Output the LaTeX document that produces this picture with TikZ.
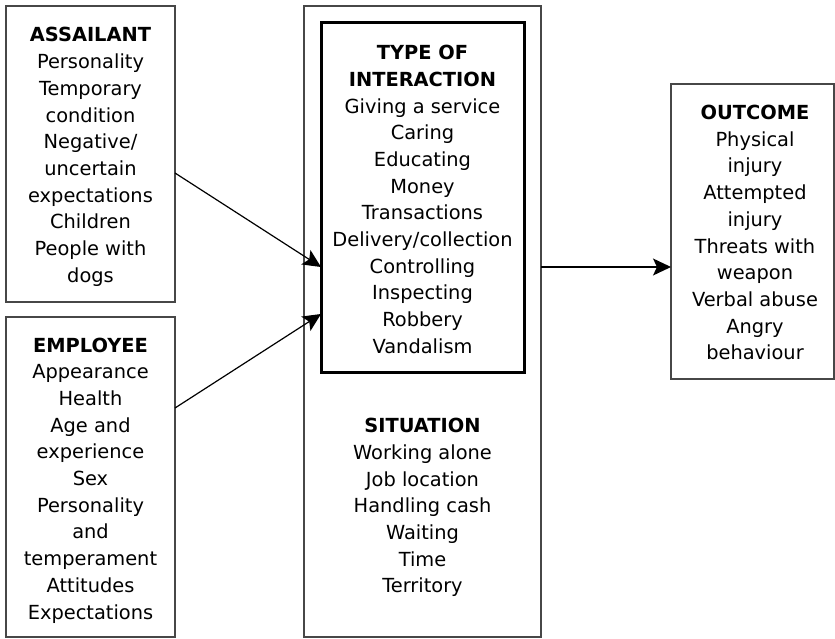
\documentclass[tikz,border=0pt]{standalone}
\usepackage{fontspec}
\setmainfont{DejaVu Sans}
\usetikzlibrary{arrows.meta}
\tikzset{
  thinbox/.style={draw=black!72, line width=1.3pt, rectangle, inner sep=0pt, outer sep=0pt},
  thickbox/.style={draw=black, line width=3pt, rectangle, inner sep=0pt, outer sep=0pt},
  txt/.style={align=center, anchor=north, inner sep=0pt, outer sep=0pt,
    font=\fontsize{19.4}{26.7}\selectfont},
  arr/.style={draw=black, line width=1.2pt, -{Stealth[length=18pt, width=17pt, inset=4pt]}}
}
\begin{document}
\begin{tikzpicture}[x=1pt, y=-1pt]
\useasboundingbox (0,0) rectangle (835,639);
% boxes
\node[thinbox, minimum width=169pt, minimum height=296pt] (assail) at (90.5,154) {};
\node[thinbox, minimum width=169pt, minimum height=320pt] (employ) at (90.5,477) {};
\node[thinbox, minimum width=237pt, minimum height=631pt] (outer) at (422.5,321.5) {};
\node[thickbox, minimum width=203pt, minimum height=349pt] (inner) at (422.5,197.5) {};
\node[thinbox, minimum width=163pt, minimum height=295pt] (outcome) at (752.5,231.5) {};
% texts
\node[txt] (assailtxt) at (90.5,27.6) {\textbf{ASSAILANT}\\Personality\\Temporary\\condition\\Negative/\\uncertain\\expectations\\Children\\People with\\dogs};
\node[txt] (employtxt) at (90.5,337.6) {\textbf{EMPLOYEE}\\Appearance\\Health\\Age and\\experience\\Sex\\Personality\\and\\temperament\\Attitudes\\Expectations};
\node[txt] (innertxt) at (422.5,45.2) {\textbf{TYPE OF}\\\textbf{INTERACTION}\\Giving a service\\Caring\\Educating\\Money\\Transactions\\Delivery/collection\\Controlling\\Inspecting\\Robbery\\Vandalism};
\node[txt] (sittxt) at (422.5,418.2) {\textbf{SITUATION}\\Working alone\\Job location\\Handling cash\\Waiting\\Time\\Territory};
\node[txt] (outtxt) at (755,105.2) {\textbf{OUTCOME}\\Physical\\injury\\Attempted\\injury\\Threats with\\weapon\\Verbal abuse\\Angry\\behaviour};
% connector anchor heights
\coordinate (h1) at (0,173);
\coordinate (h2) at (0,267);
\coordinate (h3) at (0,408);
\coordinate (h4) at (0,314);
\draw[arr] (assail.east |- h1) -- (inner.west |- h2);
\draw[arr] (employ.east |- h3) -- (inner.west |- h4);
\draw[arr] (outer.east |- h2) -- (outcome.west |- h2);
\end{tikzpicture}
\end{document}
